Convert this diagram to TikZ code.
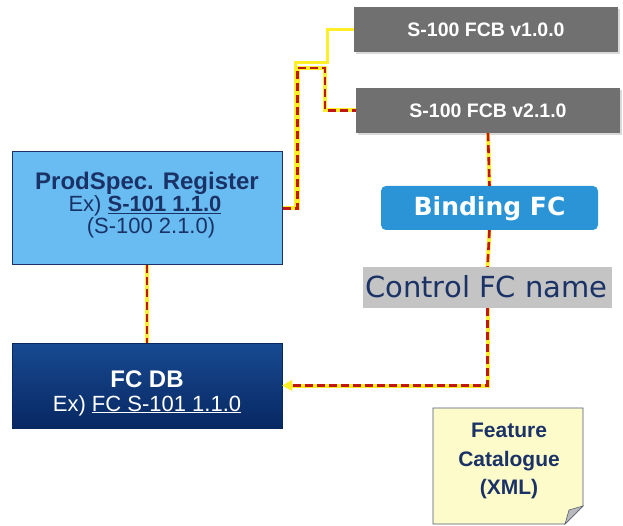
\documentclass[tikz,border=0pt]{standalone}
\usepackage{fontspec}
\setmainfont{Liberation Sans}
\newfontfamily\verdana{DejaVu Sans}
\usetikzlibrary{arrows.meta}
\usetikzlibrary{shadows,backgrounds}

\definecolor{fcbgray}{RGB}{112,112,112}
\definecolor{reglight}{RGB}{104,188,242}
\definecolor{navy}{RGB}{26,50,102}
\definecolor{dbtop}{RGB}{24,74,146}
\definecolor{dbbot}{RGB}{8,40,98}
\definecolor{bindblue}{RGB}{42,148,214}
\definecolor{ctrlgray}{RGB}{196,196,196}
\definecolor{noteyel}{RGB}{253,251,202}
\definecolor{linkred}{RGB}{192,22,22}
\definecolor{linkyel}{RGB}{255,238,40}

\tikzset{
	fcbbox/.style={fill=fcbgray, text=white, inner sep=0pt,
		font=\fontsize{19.5}{19.5}\selectfont\bfseries,
		minimum width=264pt, minimum height=45pt,
		drop shadow={opacity=0.3, shadow xshift=2pt, shadow yshift=-2pt}},
	subtext/.style={font=\fontsize{22}{22}\selectfont, anchor=base, inner sep=0pt},
	ylink/.style={draw=linkyel, line width=3pt},
	rlink/.style={draw=linkred, line width=2.6pt, dash pattern=on 8pt off 4pt,
		preaction={draw=linkyel, solid, line width=4pt}}
}

\begin{document}
\begin{tikzpicture}[x=1pt, y=-1pt]
	\useasboundingbox (0,0) rectangle (623,526);

	% draw FCB boxes
	\node[fcbbox] (fcb1) at (486,29.5) {S-100 FCB v1.0.0};
	\node[fcbbox] (fcb2) at (488,110.5) {S-100 FCB v2.1.0};

	% draw register and FC DB
	\node[fill=reglight, draw=navy, line width=1pt, minimum width=270pt, minimum height=113pt, inner sep=0pt] (reg) at (147,208.5) {};
	\node[font=\fontsize{24}{24}\selectfont\bfseries, text=navy, anchor=base, inner sep=0pt] (regtitle) at (147,190) {ProdSpec. Register};
	\node[subtext, text=navy] (regex) at (145,212) {Ex) \textbf{\underline{S-101 1.1.0}}};
	\node[subtext, text=navy] (regver) at (151,234) {(S-100 2.1.0)};

	\node[top color=dbtop, bottom color=dbbot, draw=dbbot, minimum width=270pt, minimum height=85pt, inner sep=0pt] (fcdb) at (147,385.5) {};
	\node[font=\fontsize{24}{24}\selectfont\bfseries, text=white, anchor=base, inner sep=0pt] (dbtitle) at (147,387) {FC DB};
	\node[subtext, text=white] (dbex) at (147,411) {Ex) \underline{FC S-101 1.1.0}};

	% draw binding and control
	\node[fill=bindblue, rounded corners=5pt, text=white, minimum width=217pt, minimum height=44pt, inner sep=0pt] (bind) at (489.5,208) {};
	\node[font=\verdana\fontsize{25}{25}\selectfont\bfseries, text=white, anchor=base, inner sep=0pt] (bindtext) at (489.5,216) {Binding FC};
	\node[fill=ctrlgray, minimum width=249pt, minimum height=41pt, inner sep=0pt] (ctrl) at (487.5,287.5) {};
	\node[font=\verdana\fontsize{29}{29}\selectfont, text=navy, anchor=base west, inner sep=0pt] (ctrltext) at (365,298) {Control FC name};

	% draw note
	\draw[fill=noteyel, draw=navy!50!gray, line width=0.8pt] (433,408) -- (583,408) -- (583,506) -- (565,524) -- (433,524) -- cycle;
	\fill[gray!55, draw=navy!40!gray, line width=0.6pt] (583,506) -- (565,524) -- (569,510) -- cycle;
	\node[font=\fontsize{21}{28.5}\selectfont\bfseries, text=navy, align=center] (note) at (509,461) {Feature\\Catalogue\\(XML)};

	% draw links
	\begin{scope}[on background layer]
		\draw[ylink] (reg.east) -- ++(13,0) |- (327,63) |- (fcb1.west);
		\draw[rlink] (reg.east) -- ++(15,0) |- (325,68) |- (fcb2.west);
		\draw[rlink] (reg.south) -- (fcdb.north);
	\end{scope}
	\draw[rlink] (fcb2.south) -- (bind.north);
	\draw[rlink] (bind.south) -- (ctrl.north);
	\draw[rlink, -{Triangle[length=10pt, width=10pt, color=linkyel]}] (ctrl.south) |- (fcdb.east);
\end{tikzpicture}
\end{document}
